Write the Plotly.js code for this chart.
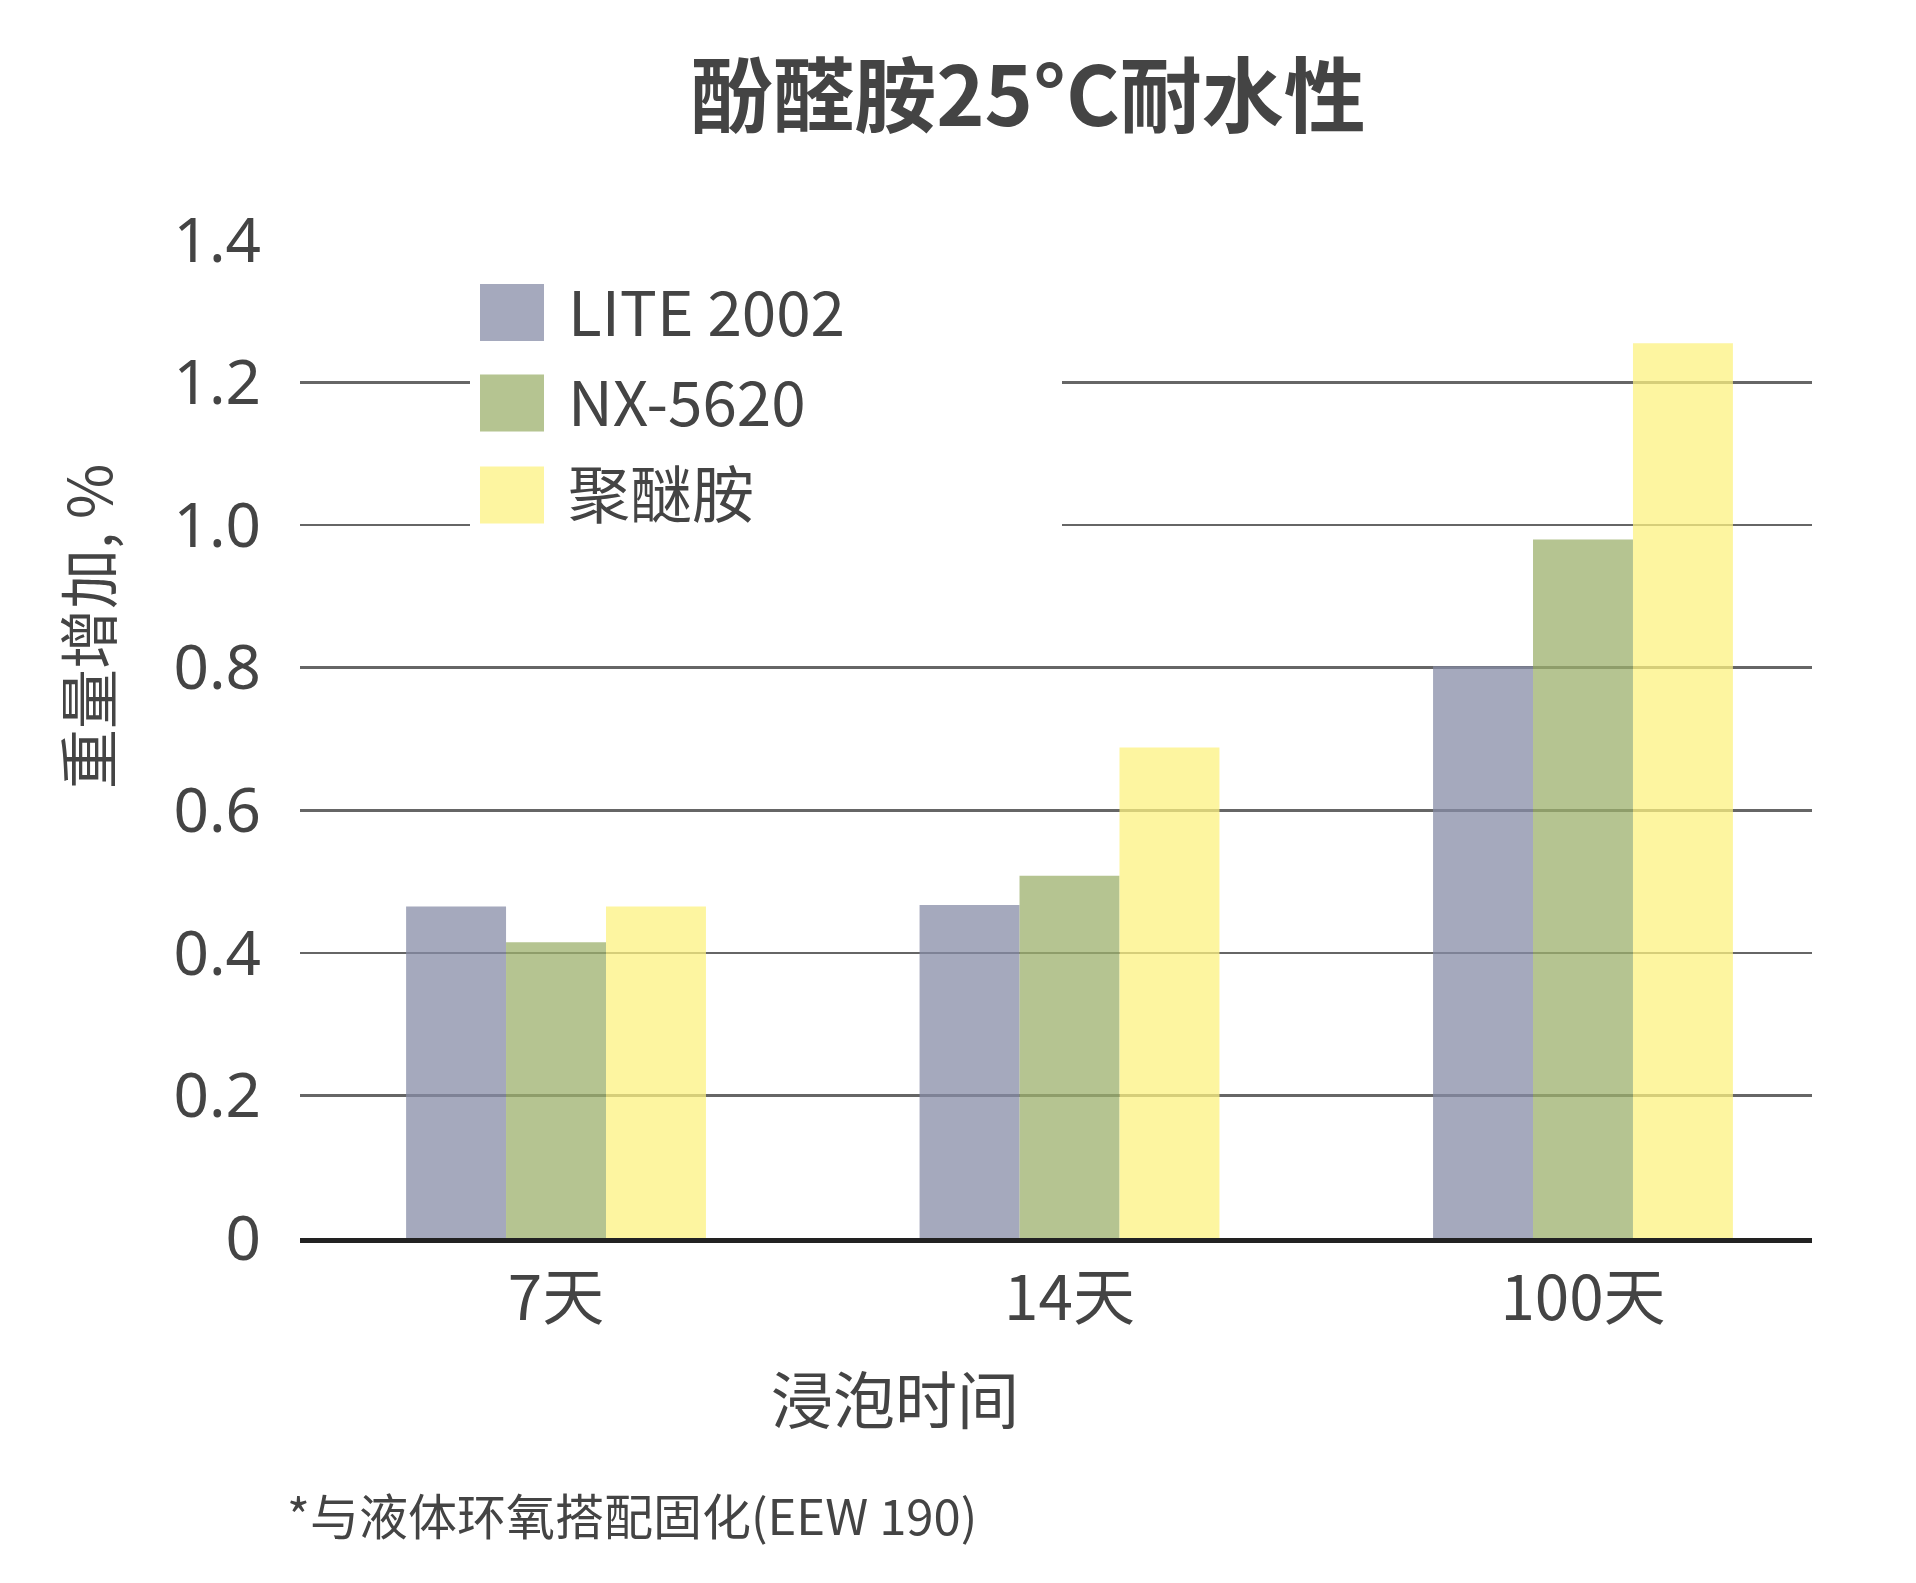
<!DOCTYPE html>
<html>
<head>
<meta charset="utf-8">
<script src="https://cdn.plot.ly/plotly-3.0.1.min.js"></script>
<style>html,body{margin:0;padding:0;background:#fff;}#chart{width:1916px;height:1583px;}</style>
</head>
<body>
<div id="chart"></div>
<script>
// ---- data ----
const categories = ['7天', '14天', '100天'];
const seriesNames = ['LITE 2002', 'NX-5620', '聚醚胺'];
const lite2002 = [0.465, 0.467, 0.802];
const nx5620 = [0.415, 0.508, 0.980];
const polyetheramine = [0.465, 0.688, 1.255];
const yTickVals = [0, 0.2, 0.4, 0.6, 0.8, 1.0, 1.2, 1.4];
const yTickText = ['0', '0.2', '0.4', '0.6', '0.8', '1.0', '1.2', '1.4'];
const titleText = '酚醛胺25°C耐水性';
const xTitleText = '浸泡时间';
const yTitleText = '重量增加, %';
const footnoteText = '*与液体环氧搭配固化(EEW 190)';

// ---- styles ----
const seriesValues = [lite2002, nx5620, polyetheramine];
const seriesColors = ['rgba(135,140,167,0.75)', 'rgba(156,176,108,0.75)', 'rgba(252,242,128,0.75)'];
const textColor = '#444444';
const cjk = '"Noto Sans CJK SC", "Noto Sans", sans-serif';

const W = 1916, H = 1583;
const L = 300, R = 1812, T = 240, B = 1238;
const px = v => (v - L) / (R - L);
const py = v => (B - v) / (B - T);

const traces = seriesNames.map((name, i) => ({
  type: 'bar',
  name: name,
  x: categories,
  y: seriesValues[i],
  marker: {color: seriesColors[i], line: {width: 0}},
  hoverinfo: 'x+y+name'
}));

// manual legend (large swatches)
const shapes = [{
  type: 'rect', xref: 'paper', yref: 'paper', layer: 'above',
  x0: px(470), x1: px(1062), y0: py(548), y1: py(255),
  fillcolor: '#ffffff', line: {width: 0}
}];
const annotations = [];
const legendCenters = [312.5, 403, 495];
seriesNames.forEach((name, i) => {
  shapes.push({
    type: 'rect', xref: 'paper', yref: 'paper', layer: 'above',
    x0: px(480), x1: px(544), y0: py(legendCenters[i] + 28.5), y1: py(legendCenters[i] - 28.5),
    fillcolor: seriesColors[i], line: {width: 0}
  });
  annotations.push({
    xref: 'paper', yref: 'paper', x: px(566), y: py(legendCenters[i] - 4),
    xanchor: 'left', yanchor: 'middle', showarrow: false, text: name,
    font: {family: cjk, size: 62, color: textColor}
  });
});

annotations.push({
  xref: 'paper', yref: 'paper', x: px(895), y: py(1397),
  xanchor: 'center', yanchor: 'middle', showarrow: false, text: xTitleText,
  font: {family: cjk, size: 62, color: textColor}
});
annotations.push({
  xref: 'paper', yref: 'paper', x: px(85), y: py(626),
  xanchor: 'center', yanchor: 'middle', showarrow: false, text: yTitleText, textangle: -90,
  font: {family: cjk, size: 60, color: textColor}
});
annotations.push({
  xref: 'paper', yref: 'paper', x: px(285), y: py(1513),
  xanchor: 'left', yanchor: 'middle', showarrow: false, text: footnoteText,
  font: {family: cjk, size: 49, color: textColor}
});

const layout = {
  width: W, height: H,
  margin: {l: L, r: W - R, t: T, b: H - B, pad: 0},
  paper_bgcolor: '#ffffff', plot_bgcolor: '#ffffff',
  showlegend: false,
  barmode: 'group', bargap: 0.416, bargroupgap: 0,
  title: {
    text: titleText,
    x: px(1028), xref: 'paper', xanchor: 'center',
    y: 1 - 97 / H, yref: 'container', yanchor: 'middle',
    font: {family: cjk, size: 82, color: textColor, weight: 'bold'}
  },
  xaxis: {
    type: 'category',
    range: [-0.4986, 2.446],
    showgrid: false, zeroline: false,
    showline: true, linecolor: '#222222', linewidth: 5, layer: 'above traces',
    ticks: '', ticklabelstandoff: 3,
    tickfont: {family: cjk, size: 62, color: textColor},
    fixedrange: true
  },
  yaxis: {
    range: [0, 1.4],
    tickmode: 'array', tickvals: yTickVals, ticktext: yTickText,
    showgrid: true, gridcolor: '#666666', gridwidth: 2.5,
    zeroline: false, showline: false,
    ticks: '', ticklabelstandoff: 38,
    tickfont: {family: '"Noto Sans", sans-serif', size: 62, color: textColor},
    fixedrange: true
  },
  shapes: shapes,
  annotations: annotations
};

Plotly.newPlot('chart', traces, layout, {displayModeBar: false, staticPlot: true});
</script>
</body>
</html>
